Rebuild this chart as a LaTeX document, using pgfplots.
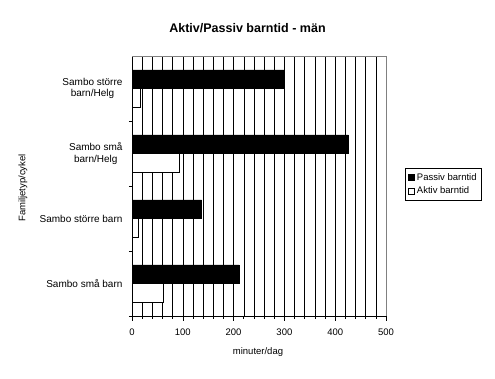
\documentclass[border=0pt]{standalone}
\usepackage{pgfplots}
\pgfplotsset{compat=1.18}
\usepackage{fontspec}
\setmainfont{Liberation Sans}
\begin{document}
\begin{tikzpicture}[x=1pt,y=1pt]
\path[use as bounding box] (0,0) rectangle (495,379);
\begin{axis}[
  at={(132pt,63pt)}, anchor=south west,
  width=254pt, height=260pt, scale only axis,
  xbar, bar width=18.7pt,
  xmin=0, xmax=500,
  ymin=-0.5, ymax=3.5,
  axis x line*=bottom, axis y line*=left,
  axis line style={-, black, line width=0.6pt},
  xtick={0,100,...,500},
  minor xtick={20,40,...,480},
  xmajorgrids, xminorgrids,
  grid style={black, line width=0.5pt},
  major x tick style={black, line width=0.6pt},
  minor x tick style={black, line width=0.6pt},
  tick align=outside,
  major tick length=5pt, minor tick length=3pt,
  ytick={0,1,2,3},
  yticklabels={Sambo små barn, Sambo större barn, {Sambo små\\barn/Helg}, {Sambo större\\barn/Helg}},
  yticklabel style={align=center, font=\fontsize{10}{11.5}\selectfont},
  minor ytick={-0.5,0.5,1.5,2.5},
  major y tick style={draw=none},
  minor y tick style={black, line width=0.6pt},
  y tick label style={xshift=-1pt},
  xticklabel style={font=\fontsize{9.5}{11}\selectfont, yshift=-4pt},
  /pgf/number format/assume math mode=true,
  legend style={at={(rel axis cs:1.075,0.569)}, anchor=north west, draw=black, line width=0.6pt, font=\fontsize{9.5}{11}\selectfont, row sep=1pt, inner xsep=3pt, inner ysep=3pt, cells={anchor=west}},
  legend image code/.code={\draw[#1, line width=0.6pt] (0pt,-3pt) rectangle (6pt,3pt);},
  clip=false,
]
\addplot[fill=black, draw=black, bar shift=9.35pt] coordinates {(211,0) (137,1) (426,2) (300,3)};
\addlegendentry{Passiv barntid}
\addplot[fill=white, draw=black, line width=0.6pt, bar shift=-9.35pt] coordinates {(62,0) (12,1) (93,2) (17,3)};
\addlegendentry{Aktiv barntid}
\draw[gray, line width=0.8pt] (rel axis cs:0,1) -- (rel axis cs:1,1) -- (rel axis cs:1,0);
\end{axis}
\node[font=\bfseries\fontsize{12.5}{14}\selectfont] at (247.5,351) {Aktiv/Passiv barntid - män};
\node[font=\fontsize{9.5}{11}\selectfont] at (258,27) {minuter/dag};
\node[font=\fontsize{9.5}{11}\selectfont, rotate=90] at (23,191) {Familjetyp/cykel};
\end{tikzpicture}
\end{document}
